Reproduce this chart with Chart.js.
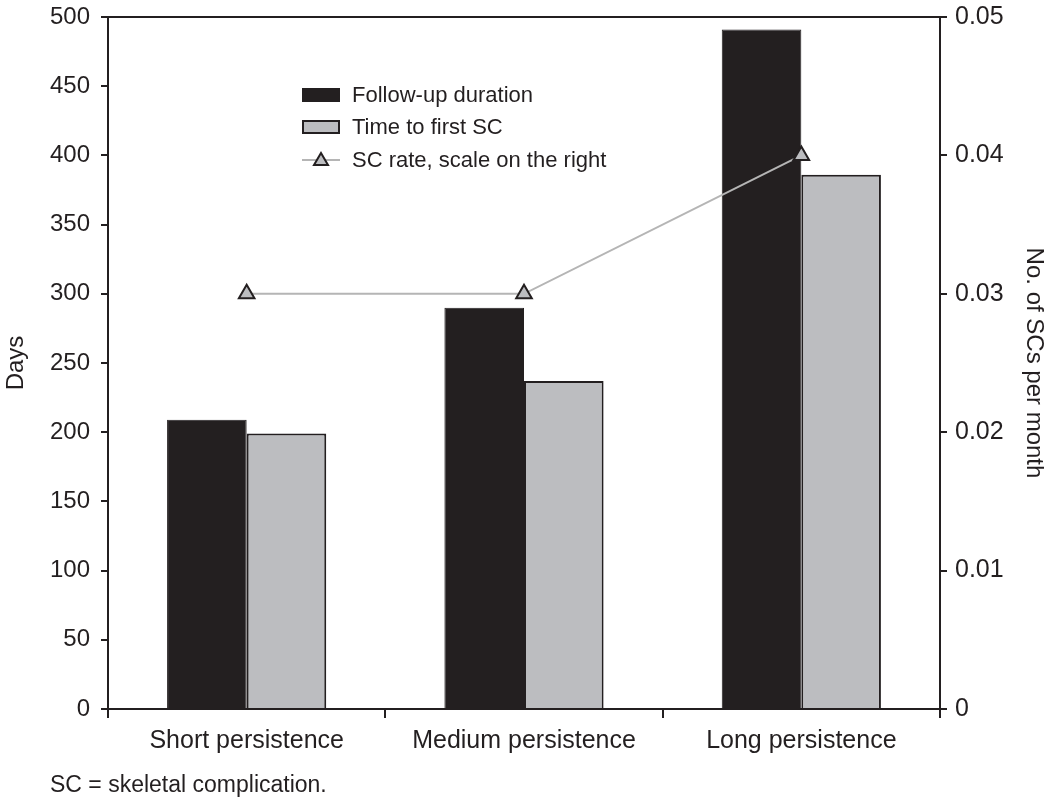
<!DOCTYPE html>
<html><head><meta charset="utf-8">
<script src="https://cdn.jsdelivr.net/npm/chart.js@4"></script>
<style>
html,body{margin:0;padding:0;background:#fff;}
#wrap{position:relative;width:1050px;height:807px;}
#note{position:absolute;left:50px;top:771px;font-family:"Liberation Sans",Arial,sans-serif;font-size:23px;color:#231f20;}
</style></head>
<body><div id="wrap"><canvas id="c" width="1050" height="807"></canvas><div id="note">SC = skeletal complication.</div></div>
<script>
const categories = ["Short persistence","Medium persistence","Long persistence"];
const followUpDays = [209, 290, 491];
const timeToFirstSC = [199, 237, 386];
const scRate = [0.03, 0.03, 0.04];
const leftTicks = [0,50,100,150,200,250,300,350,400,450,500];
const rightTicks = [0,0.01,0.02,0.03,0.04,0.05];

const INK = '#231f20', GRAY = '#bcbdc0', LINE = '#b5b5b5';
const FONT = '"Liberation Sans", Arial, sans-serif';

const frame = {
  id:'frame',
  afterDraw(chart){
    const ctx = chart.ctx, a = chart.chartArea;
    ctx.save();
    ctx.strokeStyle = INK; ctx.lineWidth = 2;
    ctx.beginPath(); ctx.moveTo(a.left-7, a.top); ctx.lineTo(a.right+7, a.top); ctx.stroke();
    // legend
    const ds = chart.data.datasets;
    ctx.font = '22px ' + FONT; ctx.textBaseline = 'middle'; ctx.fillStyle = INK;
    const lx = 302, tx = 352, rows = [95, 127, 160];
    ctx.fillStyle = ds[0].backgroundColor; ctx.fillRect(lx, rows[0]-7, 38, 14);
    ctx.fillStyle = ds[1].backgroundColor; ctx.fillRect(lx+1, rows[1]-6, 36, 12);
    ctx.strokeStyle = INK; ctx.lineWidth = 2; ctx.strokeRect(lx+1, rows[1]-6, 36, 12);
    ctx.strokeStyle = LINE; ctx.lineWidth = 2;
    ctx.beginPath(); ctx.moveTo(lx, rows[2]); ctx.lineTo(lx+38, rows[2]); ctx.stroke();
    ctx.fillStyle = GRAY; ctx.strokeStyle = INK; ctx.lineWidth = 2;
    ctx.beginPath(); ctx.moveTo(lx+19, rows[2]-7); ctx.lineTo(lx+26, rows[2]+5); ctx.lineTo(lx+12, rows[2]+5); ctx.closePath(); ctx.fill(); ctx.stroke();
    ctx.fillStyle = INK;
    ds.forEach((d,i)=>ctx.fillText(d.label, tx, rows[i]+1));
    ctx.restore();
  }
};

new Chart(document.getElementById('c'), {
  type:'bar',
  data:{
    labels: categories,
    datasets:[
      {type:'bar', label:'Follow-up duration', data: followUpDays, backgroundColor: INK, borderColor: INK, borderWidth: 1, yAxisID:'y', order:1, categoryPercentage:0.574, barPercentage:1},
      {type:'bar', label:'Time to first SC', data: timeToFirstSC, backgroundColor: GRAY, borderColor: INK, borderWidth: 2, yAxisID:'y', order:2, categoryPercentage:0.574, barPercentage:1},
      {type:'line', label:'SC rate, scale on the right', data: scRate, borderColor: LINE, borderWidth: 2, pointStyle:'triangle', pointRadius:9, pointBackgroundColor: GRAY, pointBorderColor: INK, pointBorderWidth: 2, yAxisID:'y1', order:0, tension:0}
    ]
  },
  options:{
    responsive:false, animation:false,
    layout:{padding:{top:17,left:0,right:0,bottom:0}},
    plugins:{legend:{display:false}, tooltip:{enabled:false}},
    scales:{
      x:{
        grid:{offset:true, drawOnChartArea:false, drawTicks:true, tickLength:9, color:INK, lineWidth:2},
        border:{display:true, color:INK, width:2},
        ticks:{color:INK, font:{family:FONT, size:25}, padding:8, maxRotation:0},
        afterFit(s){ s.height = 98; s.paddingLeft = 0; s.paddingRight = 0; }
      },
      y:{
        position:'left', min:0, max:500,
        afterBuildTicks(s){ s.ticks = leftTicks.map(v=>({value:v})); },
        grid:{drawOnChartArea:false, drawTicks:true, tickLength:7, color:INK, lineWidth:2},
        border:{display:true, color:INK, width:2},
        ticks:{color:INK, font:{family:FONT, size:24}, padding:11},
        title:{display:true, text:'Days', color:INK, font:{family:FONT, size:24}, padding:{top:2,bottom:0}},
        afterFit(s){ s.width = 108; s.paddingTop = 0; s.paddingBottom = 0; }
      },
      y1:{
        position:'right', min:0, max:0.05,
        afterBuildTicks(s){ s.ticks = rightTicks.map(v=>({value:v})); },
        grid:{drawOnChartArea:false, drawTicks:true, tickLength:7, color:INK, lineWidth:2},
        border:{display:true, color:INK, width:2},
        ticks:{color:INK, font:{family:FONT, size:25}, padding:8, callback:v=> v===0 ? '0' : v.toFixed(2)},
        title:{display:true, text:'No. of SCs per month', color:INK, font:{family:FONT, size:24}, padding:{top:2,bottom:0}},
        afterFit(s){ s.width = 110; s.paddingTop = 0; s.paddingBottom = 0; }
      }
    }
  },
  plugins:[frame]
});
</script></body></html>
